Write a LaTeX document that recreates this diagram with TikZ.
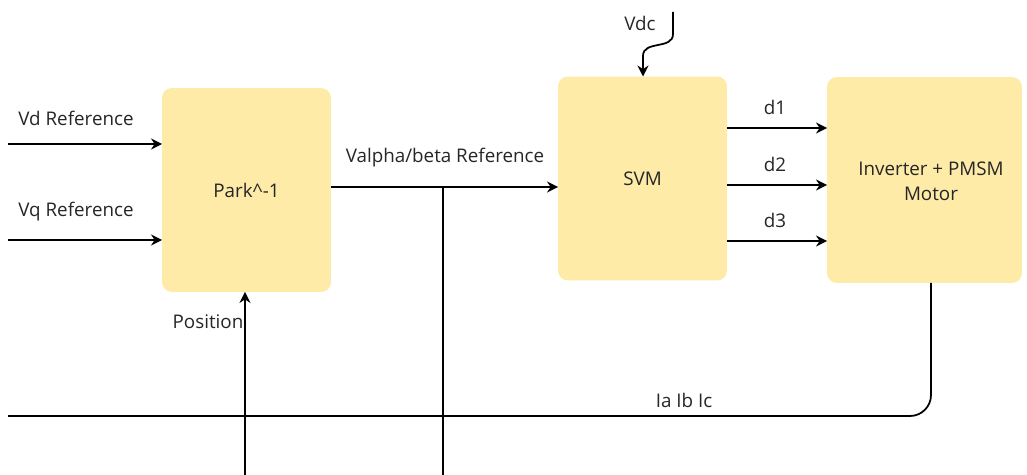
\documentclass[tikz,border=0pt]{standalone}
\usepackage{fontspec}
\setmainfont{Open Sans}
\usepackage{xcolor}
\usetikzlibrary{arrows.meta,positioning}

\definecolor{blockfill}{HTML}{FDEBA7}

\begin{document}
\begin{tikzpicture}[
  x=0.02cm, y=-0.02cm,
  block/.style={fill=blockfill, rounded corners=0.2cm, minimum width=3.38cm, minimum height=4.08cm, align=center, inner sep=2pt},
  lbl/.style={text=black!85, font=\fontsize{10.7}{14}\selectfont, inner sep=1pt},
  sig/.style={line width=1pt, -{Stealth[length=2.2mm,width=2.2mm]}},
  wire/.style={line width=1pt},
  every node/.style={outer sep=0pt}
]
  \useasboundingbox (0,0) rectangle (1027,475);

  % Blocks
  \node[block, lbl] (park) at (246.5,190) {Park\^{}-1};
  \node[block, lbl] (svm)  at (642.5,178.5) {SVM};
  \node[block, lbl, minimum width=3.9cm, minimum height=4.12cm] (inv) at (924.5,180) {};
  \node[lbl, align=center] (invlbl) at (931,181) {Inverter + PMSM\\Motor};

  % Free ends
  \coordinate (vdin) at (8,144);
  \coordinate (vqin) at (8,240);
  \coordinate (posin) at (245,475);
  \coordinate (tap) at (443,187);
  \coordinate (tapout) at (443,475);
  \coordinate (vdctop) at (673,12);
  \coordinate (iout) at (8,416);

  % Inputs to Park^-1
  \draw[sig] (vdin) -- (vdin -| park.west);
  \node[lbl] (vdlbl) at (76,118) {Vd Reference};
  \draw[sig] (vqin) -- (vqin -| park.west);
  \node[lbl] (vqlbl) at (76,212) {Vq Reference};
  \draw[sig] (posin) -- (posin |- park.south);
  \node[lbl] (poslbl) at (208,322) {Position};

  % Park^-1 to SVM
  \draw[sig] (tap -| park.east) -- (tap -| svm.west);
  \node[lbl] (vablbl) at (445,158) {Valpha/beta Reference};
  \draw[wire] (tap) -- (tapout);

  % DC link
  \node[lbl] (vdclbl) at (640,23) {Vdc};
  \draw[sig] (vdctop) -- (673,34) .. controls (673,50) and (643,40) .. (643,56) -- (svm.north -| 643,0);

  % Duty cycles
  \foreach \d/\yy in {1/128, 2/185, 3/241} {
    \draw[sig] (svm.east |- 0,\yy) -- (inv.west |- 0,\yy);
    \node[lbl] (dlbl\d) at (775,\yy-21) {d\d};
  }

  % Phase currents back
  \draw[wire, rounded corners=0.42cm] (inv.south -| 931,0) -- (931,416) -- (iout);
  \node[lbl] (ilbl) at (684,400) {Ia Ib Ic};
\end{tikzpicture}
\end{document}
